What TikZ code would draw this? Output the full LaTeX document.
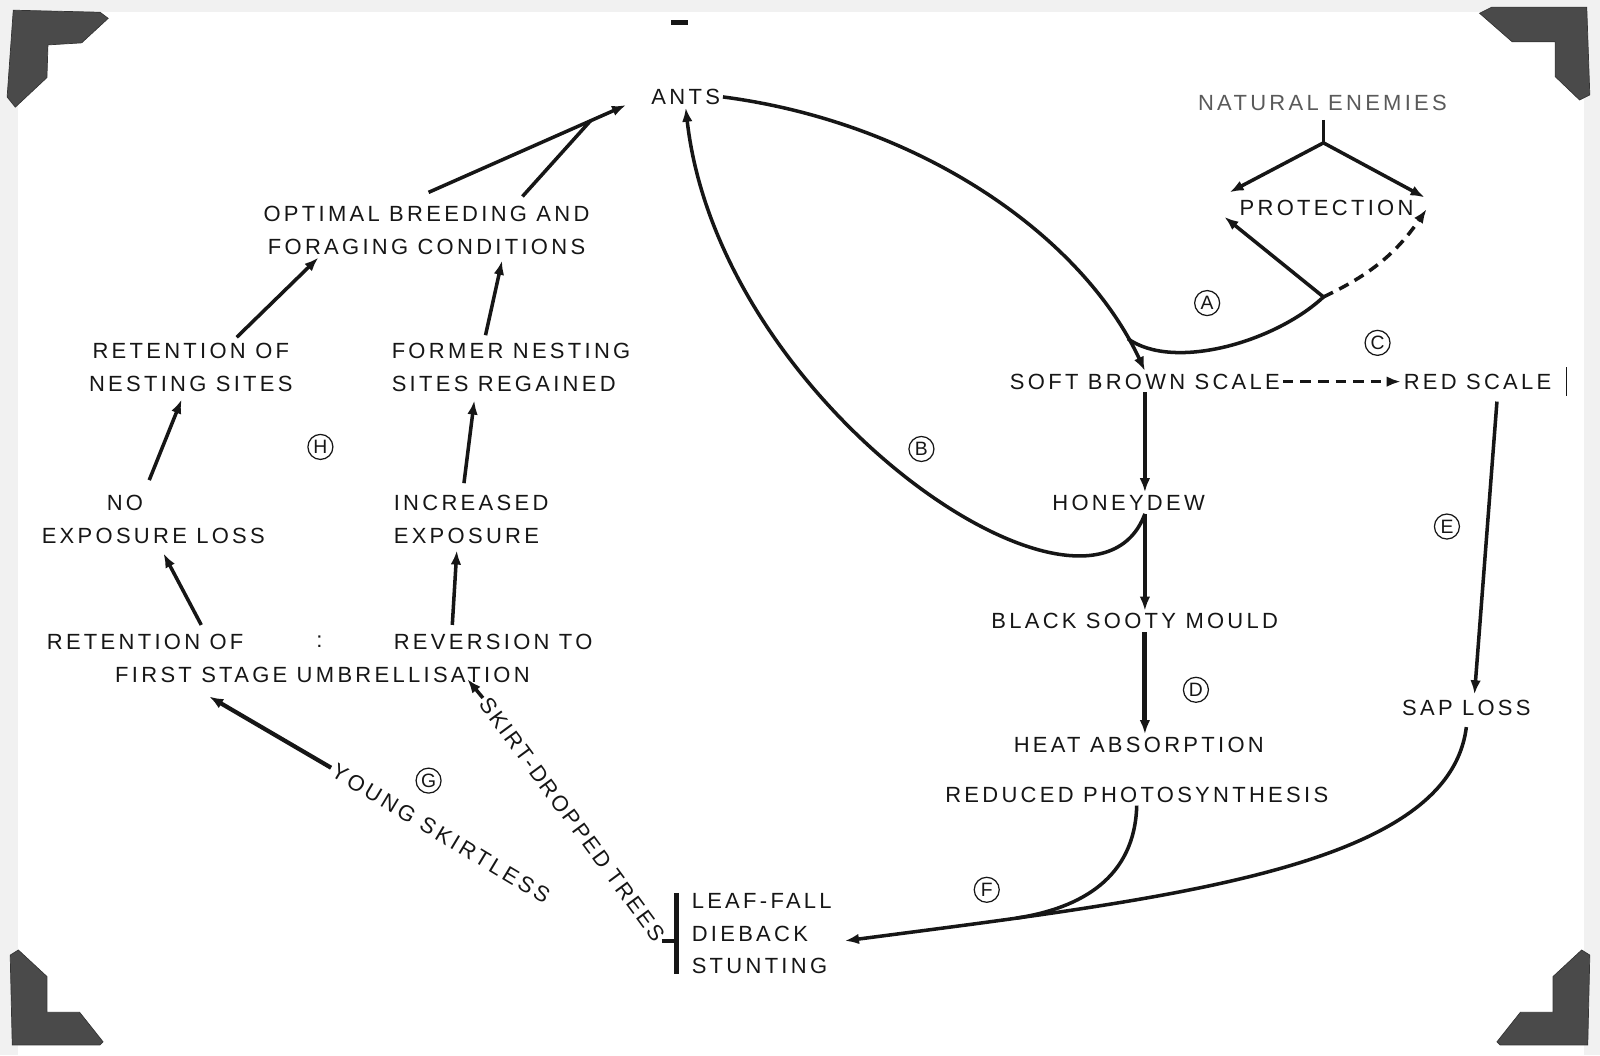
\documentclass[tikz,border=0pt]{standalone}
\usepackage{fontspec}
\setmainfont{Liberation Sans}[LetterSpace=15]
\usetikzlibrary{arrows.meta,calc}
\definecolor{tinte}{HTML}{161616}
\definecolor{blass}{HTML}{5A5A5A}
\definecolor{ecke}{HTML}{4A4A4A}
\definecolor{papier}{HTML}{F1F1F1}
\tikzset{
  txt/.style={inner sep=1.5pt,text=tinte,font=\fontsize{12.5}{18.5}\selectfont},
  pfeil/.style={-{Latex[length=8pt,width=6pt]},tinte,line width=2pt},
  strich/.style={tinte,line width=2pt},
  gestr/.style={pfeil,dash pattern=on 6pt off 4pt},
  marke/.style={circle,draw=tinte,line width=0.7pt,inner sep=0pt,minimum size=0.5cm,text=tinte,
    font=\fontsize{11}{11}\selectfont\addfontfeature{LetterSpace=0}},
  photoecke/.style={fill=ecke,draw=ecke!70!black,line width=0.4pt},
}

\begin{document}
\begin{tikzpicture}[x=0.0204cm,y=-0.0204cm]
  \useasboundingbox (0,0) rectangle (1568,1034);
  \fill[papier] (0,0) rectangle (1568,1034);
  \fill[white] (18,12) rectangle (1552,1034);
  \draw[photoecke] (13,10) -- (98,12) -- (106,18) -- (80,42) -- (47,44) -- (46,76) -- (15,105) -- (7,95) -- cycle;
  \draw[photoecke] (1450,13) -- (1462,7) -- (1555,7) -- (1558,93) -- (1548,98) -- (1524,75) -- (1524,41) -- (1482,41) -- cycle;
  \draw[photoecke] (10,936) -- (18,931) -- (46,957) -- (46,992) -- (78,992) -- (101,1021) -- (98,1024) -- (12,1024) -- cycle;
  \draw[photoecke] (1558,936) -- (1550,931) -- (1522,957) -- (1522,992) -- (1490,992) -- (1467,1021) -- (1470,1024) -- (1556,1024) -- cycle;
  \draw[tinte,line width=2.5pt] (658,22) -- (674,22);

  \node[txt] (ants) at (672,95) {ANTS};
  \node[txt,text=blass] (feinde) at (1296,101) {NATURAL ENEMIES};
  \node[txt] (schutz) at (1300,204) {PROTECTION};
  \node[txt] (braun) at (1122,374) {SOFT BROWN SCALE};
  \node[txt] (rot) at (1448,374) {RED SCALE};
  \node[txt] (honig) at (1106,493) {HONEYDEW};
  \node[txt] (russ) at (1112,609) {BLACK SOOTY MOULD};
  \node[txt] (waerme) at (1116,730) {HEAT ABSORPTION};
  \node[txt] (photo) at (1114,779) {REDUCED PHOTOSYNTHESIS};
  \node[txt] (saft) at (1437,694) {SAP LOSS};
  \node[txt,anchor=west,align=left] (laub) at (675,915) {LEAF-FALL\\DIEBACK\\STUNTING};
  \node[txt,align=center] (optimal) at (418,226) {OPTIMAL BREEDING AND\\FORAGING CONDITIONS};
  \node[txt,align=center] (nistalt) at (187,360) {RETENTION OF\\NESTING SITES};
  \node[txt,anchor=west,align=left] (nistneu) at (381,360) {FORMER NESTING\\SITES REGAINED};
  \node[txt,anchor=west,align=left] (keinverl) at (38,509) {\hspace*{1.3cm}NO\\EXPOSURE LOSS};
  \node[txt,anchor=west,align=left] (mehrlicht) at (383,509) {INCREASED\\EXPOSURE};
  \node[txt,anchor=west] (erhalt) at (43,629) {RETENTION OF};
  \node[txt] (trenn) at (313,629) {:};
  \node[txt,anchor=west] (umkehr) at (383,629) {REVERSION TO};
  \node[txt] (schirm) at (316,661) {FIRST STAGE UMBRELLISATION};
  \node[txt,rotate=-31] (jung) at (432,817) {YOUNG SKIRTLESS};
  \node[txt,rotate=-53.6,font=\fontsize{12.5}{18.5}\selectfont\addfontfeature{LetterSpace=10}] (rock) at (561,803) {SKIRT-DROPPED TREES};

  \node[marke] (mA) at (1183,297) {A};
  \node[marke] (mB) at (903,440) {B};
  \node[marke] (mC) at (1350,336) {C};
  \node[marke] (mD) at (1172,676) {D};
  \node[marke] (mE) at (1418,516) {E};
  \node[marke] (mF) at (967,872) {F};
  \node[marke] (mG) at (420,765) {G};
  \node[marke] (mH) at (314,438) {H};

  \coordinate (gabel) at (1297,291);
  \coordinate (zweig) at (1297,140);
  \coordinate (balkenO) at ([shift={(-12,-40)}]laub.west);
  \coordinate (balkenU) at ([shift={(-12,40)}]laub.west);

  \draw[pfeil] (ants.east) .. controls (900,120) and (1060,230) .. (braun.north) coordinate[pos=0.92] (abzw);
  \draw[strich] (abzw) .. controls (1150,364) and (1250,335) .. (gabel);
  \draw[pfeil] (gabel) -- ([shift={(-12,-2)}]schutz.south west);
  \draw[gestr] (gabel) to[bend right=15] ([shift={(10,1)}]schutz.east);
  \draw[strich] ([shift={(1,6)}]feinde.south) -- (zweig);
  \draw[pfeil] (zweig) -- ([shift={(-7,-5)}]schutz.north west);
  \draw[pfeil] (zweig) -- ([shift={(8,0)}]schutz.north east);
  \draw[gestr] (braun.east) -- (rot.west);
  \draw[tinte,line width=0.8pt] ([shift={(12,-14)}]rot.east) -- ([shift={(12,14)}]rot.east);
  \draw[pfeil] (braun.south) -- (braun.south |- honig.north);
  \draw[pfeil] (braun.south |- honig.south) -- (braun.south |- russ.north);
  \draw[pfeil] (braun.south |- honig.south) .. controls (1070,645) and (705,400) .. (ants.south);
  \draw[pfeil,line width=2.8pt] (braun.south |- russ.south) -- (braun.south |- waerme.north);
  \draw[pfeil] ([shift={(19,9)}]rot.south) -- ([shift={(8,-3)}]saft.north);
  \draw[pfeil] ([shift={(0,8)}]saft.south) .. controls (1420,850) and (1150,880) .. ([shift={(10,7)}]laub.east) coordinate[pos=0.82] (fzus);
  \draw[strich] (photo.south) .. controls (1112,860) and (1060,890) .. (fzus);
  \draw[tinte,line width=2.4pt] (balkenO) -- (balkenU);
  \draw[strich] (rock.east) -- (rock.east -| balkenO);
  \draw[pfeil] (rock.west) -- ([shift={(142,-6)}]schirm.south);
  \draw[pfeil,line width=2.4pt] (jung.west) -- ([shift={(-111,11)}]schirm.south);

  \draw[pfeil] ([shift={(55,-6)}]erhalt.north) -- ([shift={(10,7)}]keinverl.south);
  \draw[pfeil] ([shift={(-40,-6)}]umkehr.north) -- ([shift={(-14,4)}]mehrlicht.south);
  \draw[pfeil] ([shift={(-4,-12)}]keinverl.north) -- ([shift={(-9,5)}]nistalt.south);
  \draw[pfeil] ([shift={(-7,-9)}]mehrlicht.north) -- ([shift={(-36,6)}]nistneu.south);
  \draw[pfeil] ([shift={(45,-3)}]nistalt.north) -- ([shift={(-106,0)}]optimal.south);
  \draw[pfeil] ([shift={(-25,-5)}]nistneu.north) -- ([shift={(74,3)}]optimal.south);
  \draw[pfeil] ([shift={(2,-11)}]optimal.north) -- ([shift={(-22,8)}]ants.west) coordinate[pos=0.82] (antsmit);
  \draw[strich] ([shift={(94,-7)}]optimal.north) -- (antsmit);
\end{tikzpicture}
\end{document}
